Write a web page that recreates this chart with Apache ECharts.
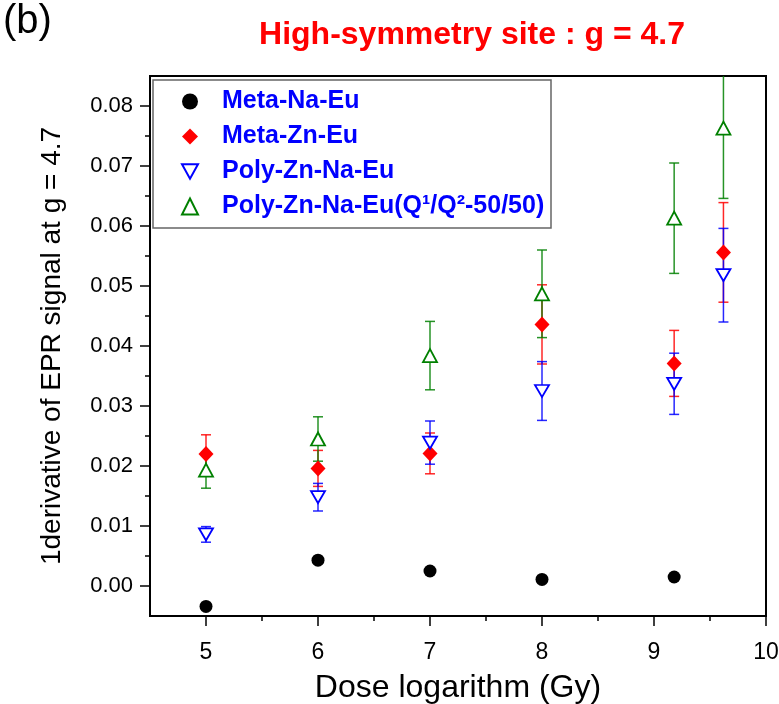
<!DOCTYPE html>
<html>
<head>
<meta charset="utf-8">
<style>
  html, body { margin: 0; padding: 0; background: #fff; }
  #chart { width: 779px; height: 704px; }
</style>
<script src="https://cdn.jsdelivr.net/npm/echarts@6/dist/echarts.min.js"></script>
</head>
<body>
<div id="chart"></div>
<script>
// Dose (log scale) at which each sample was measured
const doseMeta = [5, 6, 7, 8, 9.18];
const doseAll = [5, 6, 7, 8, 9.18, 9.62];

// First-derivative EPR signal at g = 4.7
const metaNaEu = [-0.0034, 0.0043, 0.0025, 0.0011, 0.0015];
const metaZnEu = [0.0220, 0.0196, 0.0221, 0.0436, 0.0371, 0.0556];
const metaZnEuErr = [0.0032, 0.0030, 0.0034, 0.0066, 0.0055, 0.0083];
const polyZnNaEu = [0.0086, 0.0148, 0.0239, 0.0325, 0.0337, 0.0518];
const polyZnNaEuErr = [0.0013, 0.0023, 0.0036, 0.0049, 0.0051, 0.0078];
const polyQ = [0.0193, 0.0245, 0.0384, 0.0487, 0.0613, 0.0763];
const polyQErr = [0.0030, 0.0037, 0.0057, 0.0073, 0.0092, 0.0117];

// Axis ticks
const xMajor = [5, 6, 7, 8, 9, 10];
const xMinor = [5.5, 6.5, 7.5, 8.5, 9.5];
const yMajor = [0, 0.01, 0.02, 0.03, 0.04, 0.05, 0.06, 0.07, 0.08];
const yMinor = [0.005, 0.015, 0.025, 0.035, 0.045, 0.055, 0.065, 0.075];

const names = ['Meta-Na-Eu', 'Meta-Zn-Eu', 'Poly-Zn-Na-Eu', 'Poly-Zn-Na-Eu(Q\u00b9/Q\u00b2-50/50)'];
const FONT = 'Liberation Sans, Arial, sans-serif';
const DOWN_TRI = 'path://M0,0L10,0L5,9Z';

function pts(xs, ys) { return xs.map((x, i) => [x, ys[i]]); }
function bars(xs, ys, es) { return xs.map((x, i) => [x, ys[i] - es[i], ys[i] + es[i]]); }

function errorBars(color) {
  return function (params, api) {
    const x = api.value(0);
    const lo = api.coord([x, api.value(1)]);
    const hi = api.coord([x, api.value(2)]);
    const cs = params.coordSys;
    const top = cs.y, bottom = cs.y + cs.height;
    const yHi = Math.max(hi[1], top), yLo = Math.min(lo[1], bottom);
    const st = { stroke: color, lineWidth: 1.5, opacity: 0.85 };
    const kids = [{ type: 'line', shape: { x1: hi[0], y1: yHi, x2: lo[0], y2: yLo }, style: st }];
    if (hi[1] >= top) kids.push({ type: 'line', shape: { x1: hi[0] - 5, y1: hi[1], x2: hi[0] + 5, y2: hi[1] }, style: st });
    if (lo[1] <= bottom) kids.push({ type: 'line', shape: { x1: lo[0] - 5, y1: lo[1], x2: lo[0] + 5, y2: lo[1] }, style: st });
    return { type: 'group', children: kids };
  };
}

function errSeries(color, data) {
  return { type: 'custom', renderItem: errorBars(color), data: data, z: 1, silent: true,
           encode: { x: 0, y: [1, 2] } };
}

const chart = echarts.init(document.getElementById('chart'), null, { renderer: 'canvas' });

chart.setOption({
  animation: false,
  backgroundColor: '#ffffff',
  textStyle: { fontFamily: FONT },
  grid: { left: 150, right: 13, top: 76, bottom: 88, show: true, borderColor: '#000', borderWidth: 2,
          containLabel: false, outerBoundsMode: 'none' },
  graphic: [
    { type: 'text', left: 3, top: 2, style: { text: '(b)', font: '40px ' + FONT, fill: '#000' } },
    { type: 'text', x: 472, y: 35, style: { text: 'High-symmetry site : g = 4.7', font: 'bold 32px ' + FONT,
      fill: '#ff0000', align: 'center', verticalAlign: 'middle' } },
    { type: 'rect', shape: { x: 153, y: 80, width: 398, height: 148 }, z: 5,
      style: { fill: 'none', stroke: '#666', lineWidth: 1.5 } }
  ],
  legend: {
    orient: 'vertical', left: 176, top: 84, itemWidth: 16, itemHeight: 16, itemGap: 10,
    data: names, z: 6,
    textStyle: { color: '#0000ff', fontWeight: 'bold', fontSize: 25, fontFamily: FONT, padding: [0, 0, 0, 19] }
  },
  xAxis: [{
    type: 'value', min: 4.5, max: 10, position: 'bottom',
    axisLine: { onZero: false, lineStyle: { color: '#000', width: 2 } },
    axisTick: { customValues: xMajor, length: 10, lineStyle: { color: '#000', width: 1.5 } },
    axisLabel: { customValues: xMajor, color: '#000', fontSize: 23, margin: 25, fontFamily: FONT },
    splitLine: { show: false },
    name: 'Dose logarithm (Gy)', nameLocation: 'middle', nameGap: 56,
    nameTextStyle: { fontSize: 32, color: '#000', fontFamily: FONT }
  }, {
    type: 'value', min: 4.5, max: 10, position: 'bottom',
    axisLine: { show: false, onZero: false },
    axisTick: { customValues: xMinor, length: 5, lineStyle: { color: '#000', width: 1.5 } },
    axisLabel: { show: false }, splitLine: { show: false }
  }],
  yAxis: [{
    type: 'value', min: -0.005, max: 0.085, position: 'left',
    axisLine: { onZero: false, lineStyle: { color: '#000', width: 2 } },
    axisTick: { customValues: yMajor, length: 10, lineStyle: { color: '#000', width: 1.5 } },
    axisLabel: { customValues: yMajor, color: '#000', fontSize: 22, margin: 17, fontFamily: FONT,
                 formatter: v => v.toFixed(2) },
    splitLine: { show: false },
    name: '1derivative of EPR signal at g = 4.7', nameLocation: 'middle', nameGap: 84,
    nameTextStyle: { fontSize: 28, color: '#000', fontFamily: FONT }
  }, {
    type: 'value', min: -0.005, max: 0.085, position: 'left',
    axisLine: { show: false, onZero: false },
    axisTick: { customValues: yMinor, length: 5, lineStyle: { color: '#000', width: 1.5 } },
    axisLabel: { show: false }, splitLine: { show: false }
  }],
  series: [
    errSeries('#ff0000', bars(doseAll, metaZnEu, metaZnEuErr)),
    errSeries('#0000ff', bars(doseAll, polyZnNaEu, polyZnNaEuErr)),
    errSeries('#008000', bars(doseAll, polyQ, polyQErr)),
    { name: names[0], type: 'scatter', data: pts(doseMeta, metaNaEu), symbol: 'circle', symbolSize: 13,
      itemStyle: { color: '#000', opacity: 1 }, z: 3 },
    { name: names[1], type: 'scatter', data: pts(doseAll, metaZnEu), symbol: 'diamond', symbolSize: [15, 16],
      itemStyle: { color: '#ff0000', opacity: 1 }, z: 3 },
    { name: names[2], type: 'scatter', data: pts(doseAll, polyZnNaEu), symbol: DOWN_TRI, symbolSize: [14, 12],
      itemStyle: { color: '#ffffff', borderColor: '#0000ff', borderWidth: 1.8, opacity: 1 }, z: 3 },
    { name: names[3], type: 'scatter', data: pts(doseAll, polyQ), symbol: 'triangle', symbolSize: [14, 13],
      itemStyle: { color: '#ffffff', borderColor: '#008000', borderWidth: 1.8, opacity: 1 }, z: 3 }
  ]
});
</script>
</body>
</html>
